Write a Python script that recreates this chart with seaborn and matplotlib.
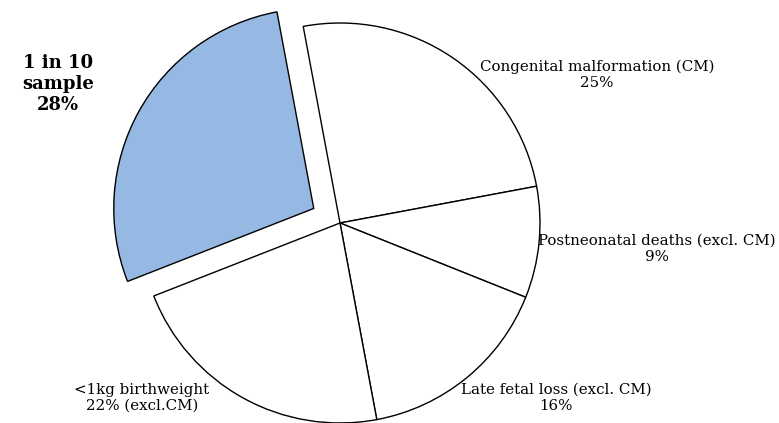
import matplotlib
matplotlib.use("Agg")
import matplotlib.pyplot as plt
import seaborn as sns

categories = ["Congenital malformation (CM)", "Postneonatal deaths (excl. CM)",
              "Late fetal loss (excl. CM)", "<1kg birthweight", "1 in 10 sample"]
shares = [25, 9, 16, 22, 28]
label_texts = ["Congenital malformation (CM)\n25%",
               "Postneonatal deaths (excl. CM)\n9%",
               "Late fetal loss (excl. CM)\n16%",
               "<1kg birthweight\n22% (excl.CM)",
               "1 in 10\nsample\n28%"]

sns.set_theme(style="white")
plt.rcParams['font.family'] = ['DejaVu Serif']
plt.rcParams['text.color'] = 'black'

W, H = 779, 423
fig = plt.figure(figsize=(W / 100, H / 100), dpi=100)
ax = fig.add_axes([0, 0, 1, 1])

colors = ["white", "white", "white", "white", "#95b9e2"]
explode = [0, 0, 0, 0, 0.15]
ax.pie(shares, colors=colors, explode=explode, startangle=100.6, counterclock=False,
       radius=1.0, center=(0, 0),
       wedgeprops=dict(edgecolor="black", linewidth=1.0))

# pixel mapping: center at (340, 223) px, radius 200 px
cx, cy, r = 340, 223, 200
ax.set_aspect('auto')
ax.set_xlim(-cx / r, (W - cx) / r)
ax.set_ylim(-(H - cy) / r, cy / r)
ax.axis('off')

def place(txt, px, py, ls, **kw):
    fig.text(px / W, 1 - py / H, txt, ha="center", va="center", linespacing=ls,
             color="black", **kw)

place(label_texts[0], 597, 75, 1.2, fontsize=10.8)
place(label_texts[1], 657, 249, 1.2, fontsize=10.8)
place(label_texts[2], 556, 398, 1.2, fontsize=10.8)
place(label_texts[3], 142, 398, 1.2, fontsize=10.8)
place(label_texts[4], 58, 84, 1.2, fontsize=13, fontweight="bold")

fig.savefig("out.png", dpi=100, facecolor="white")
